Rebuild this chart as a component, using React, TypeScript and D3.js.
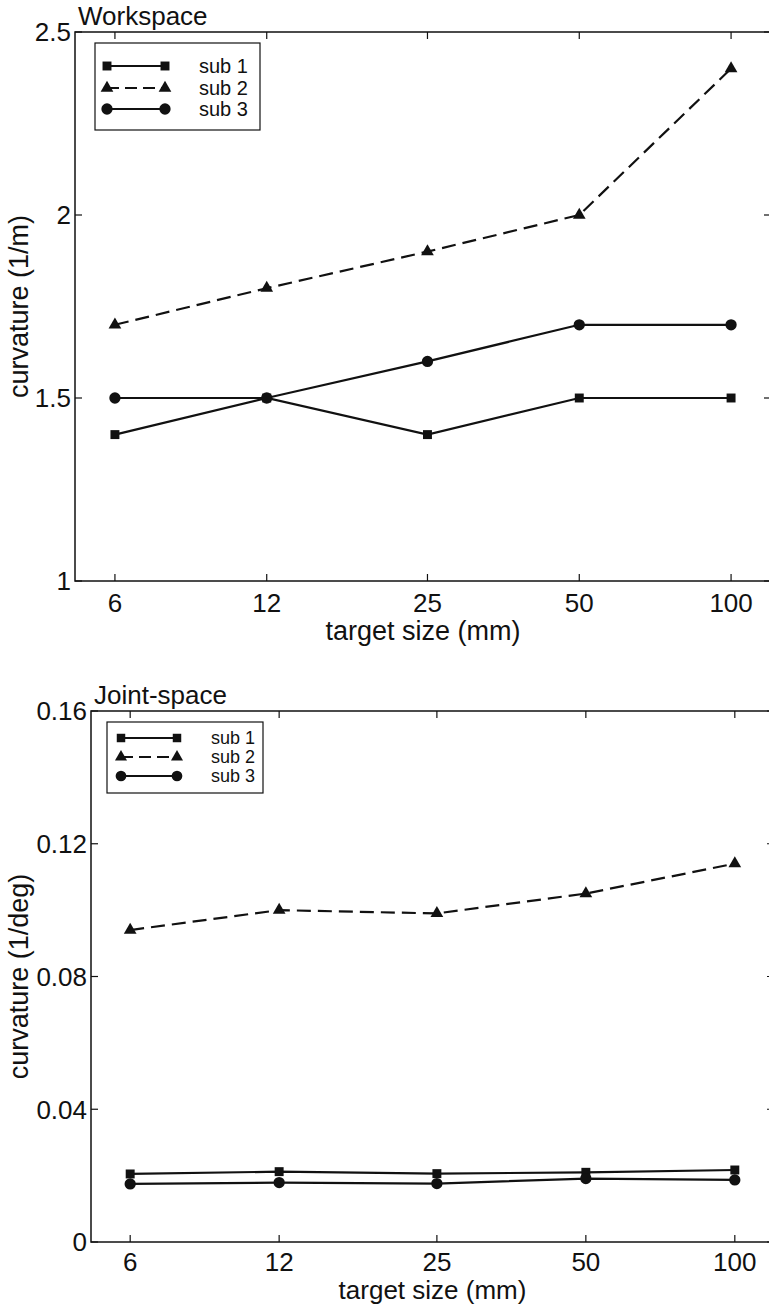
import * as d3 from "d3";

const sizes = [6, 12, 25, 50, 100];
const sizeLabels = ["6", "12", "25", "50", "100"];

// Workspace curvature (1/m)
const wsSub1 = [1.4, 1.5, 1.4, 1.5, 1.5];
const wsSub2 = [1.7, 1.8, 1.9, 2.0, 2.4];
const wsSub3 = [1.5, 1.5, 1.6, 1.7, 1.7];
const wsTicks = [1, 1.5, 2, 2.5];
const wsTickLabels = ["1", "1.5", "2", "2.5"];

// Joint-space curvature (1/deg)
const jsSub1 = [0.0205, 0.0212, 0.0206, 0.021, 0.0217];
const jsSub2 = [0.094, 0.1, 0.099, 0.105, 0.114];
const jsSub3 = [0.0175, 0.0179, 0.0176, 0.0191, 0.0187];
const jsTicks = [0, 0.04, 0.08, 0.12, 0.16];
const jsTickLabels = ["0", "0.04", "0.08", "0.12", "0.16"];

const seriesNames = ["sub 1", "sub 2", "sub 3"];

const FONT = "'Liberation Sans', Arial, Helvetica, sans-serif";
const INK = "#111";

const SYM = [d3.symbolSquare, d3.symbolTriangle, d3.symbolCircle];
const SYM_SIZE = [80, 70, 100];
const DASH = [null, "14 7", null];

type PanelProps = {
  box: { l: number; r: number; t: number; b: number };
  yDomain: [number, number];
  yTicks: number[];
  yTickLabels: string[];
  series: number[][];
  title: string;
  yLabel: string;
  yLabelX: number;
  xTickDy: number;
  xLabelDy: number;
  xLabelFs: number;
  legend: { l: number; r: number; t: number; b: number; rows: number[]; x1: number; x2: number; tx: number; fs: number; ms: number };
};

function Panel({ box, yDomain, yTicks, yTickLabels, series, title, yLabel, yLabelX, xTickDy, xLabelDy, xLabelFs, legend }: PanelProps) {
  const x = d3.scaleLog().domain([5, 120]).range([box.l, box.r]);
  const y = d3.scaleLinear().domain(yDomain).range([box.b, box.t]);
  const line = d3.line<number>().x((_, i) => x(sizes[i])).y(d => y(d));
  const tl = 7;

  return (
    <g fontFamily={FONT} fill={INK}>
      <text x={box.l + 3} y={box.t - 7} fontSize={26}>{title}</text>

      {/* frame */}
      <rect x={box.l} y={box.t} width={box.r - box.l} height={box.b - box.t}
        fill="none" stroke={INK} strokeWidth={1.5} />

      {/* x ticks */}
      {sizes.map((s, i) => (
        <g key={s}>
          <line x1={x(s)} x2={x(s)} y1={box.b} y2={box.b - tl} stroke={INK} strokeWidth={1.2} />
          <line x1={x(s)} x2={x(s)} y1={box.t} y2={box.t + tl} stroke={INK} strokeWidth={1.2} />
          <text x={x(s)} y={box.b + xTickDy} fontSize={26} textAnchor="middle">{sizeLabels[i]}</text>
        </g>
      ))}
      <text x={(box.l + box.r) / 2} y={box.b + xLabelDy} fontSize={xLabelFs} textAnchor="middle">target size (mm)</text>

      {/* y ticks */}
      {yTicks.map((v, i) => (
        <g key={v}>
          <line x1={box.l} x2={box.l + tl} y1={y(v)} y2={y(v)} stroke={INK} strokeWidth={1.2} />
          <line x1={box.r} x2={box.r - tl} y1={y(v)} y2={y(v)} stroke={INK} strokeWidth={1.2} />
          <text x={box.l - 4} y={y(v)} dy="0.36em" fontSize={26} textAnchor="end">{yTickLabels[i]}</text>
        </g>
      ))}
      <text transform={`translate(${yLabelX},${(box.t + box.b) / 2}) rotate(-90)`}
        fontSize={27} textAnchor="middle">{yLabel}</text>

      {/* series */}
      {series.map((vals, k) => (
        <g key={k}>
          <path d={line(vals) ?? ""} fill="none" stroke={INK} strokeWidth={2.2}
            strokeDasharray={DASH[k] ?? undefined} />
          {vals.map((v, i) => (
            <path key={i} transform={`translate(${x(sizes[i])},${y(v)})`}
              d={d3.symbol().type(SYM[k]).size(SYM_SIZE[k])() ?? ""} fill={INK} />
          ))}
        </g>
      ))}

      {/* legend */}
      <rect x={legend.l} y={legend.t} width={legend.r - legend.l} height={legend.b - legend.t}
        fill="#fff" stroke={INK} strokeWidth={1.2} />
      {seriesNames.map((name, k) => {
        const ry = legend.rows[k];
        const sym = d3.symbol().type(SYM[k]).size(SYM_SIZE[k] * legend.ms)() ?? "";
        return (
          <g key={name}>
            <line x1={legend.x1} x2={legend.x2} y1={ry} y2={ry} stroke={INK} strokeWidth={2}
              strokeDasharray={DASH[k] ? "12 6" : undefined} />
            <path transform={`translate(${legend.x1},${ry})`} d={sym} fill={INK} />
            <path transform={`translate(${legend.x2},${ry})`} d={sym} fill={INK} />
            <text x={legend.tx} y={ry} dy="0.36em" fontSize={legend.fs}>{name}</text>
          </g>
        );
      })}
    </g>
  );
}

export default function App() {
  return (
    <svg width={769} height={1306} style={{ position: "absolute", left: 0, top: 0, background: "#fff" }}>
      <Panel
        box={{ l: 75, r: 771, t: 32, b: 581 }}
        yDomain={[1, 2.5]}
        yTicks={wsTicks}
        yTickLabels={wsTickLabels}
        series={[wsSub1, wsSub2, wsSub3]}
        title="Workspace"
        yLabel="curvature (1/m)"
        yLabelX={28}
        xTickDy={31}
        xLabelDy={59}
        xLabelFs={27}
        legend={{ l: 95, r: 260, t: 43, b: 130, rows: [66, 88, 109], x1: 107, x2: 165, tx: 199, fs: 20, ms: 1 }}
      />
      <Panel
        box={{ l: 91, r: 774, t: 711, b: 1242 }}
        yDomain={[0, 0.16]}
        yTicks={jsTicks}
        yTickLabels={jsTickLabels}
        series={[jsSub1, jsSub2, jsSub3]}
        title="Joint-space"
        yLabel="curvature (1/deg)"
        yLabelX={28}
        xTickDy={29}
        xLabelDy={57}
        xLabelFs={26}
        legend={{ l: 107, r: 263, t: 722, b: 793, rows: [738, 757, 776], x1: 121, x2: 177, tx: 211, fs: 18, ms: 0.9 }}
      />
    </svg>
  );
}
